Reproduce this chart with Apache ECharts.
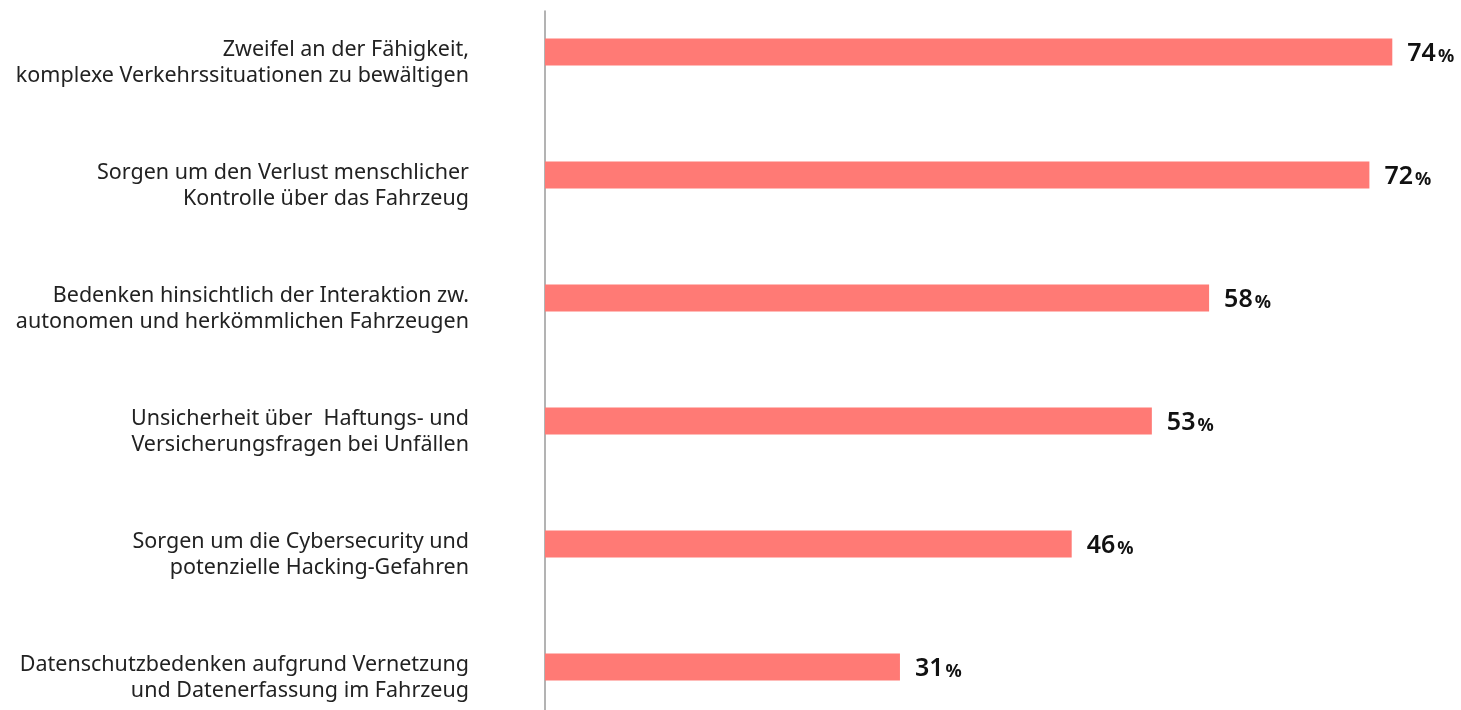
<!DOCTYPE html>
<html>
<head>
<meta charset="utf-8">
<script src="https://cdn.jsdelivr.net/npm/echarts@6/dist/echarts.min.js"></script>
<style>
html,body{margin:0;padding:0;background:#fff;overflow:hidden;width:1461px;height:710px;}
#chart{position:absolute;left:0;top:-30px;width:1461px;height:770px;}
</style>
</head>
<body>
<div id="chart"></div>
<script>
const categories = [
  "Zweifel an der Fähigkeit,\nkomplexe Verkehrssituationen zu bewältigen",
  "Sorgen um den Verlust menschlicher\nKontrolle über das Fahrzeug",
  "Bedenken hinsichtlich der Interaktion zw.\nautonomen und herkömmlichen Fahrzeugen",
  "Unsicherheit über  Haftungs- und\nVersicherungsfragen bei Unfällen",
  "Sorgen um die Cybersecurity und\npotenzielle Hacking-Gefahren",
  "Datenschutzbedenken aufgrund Vernetzung\nund Datenerfassung im Fahrzeug"
];
const values = [74, 72, 58, 53, 46, 31];

const chart = echarts.init(document.getElementById('chart'));
chart.setOption({
  animation: false,
  grid: [
    {left: 545, right: 0, top: 20.5, height: 738, containLabel: false},
    {left: 545, width: 1, top: 41, bottom: 0}
  ],
  xAxis: [
    {type: 'value', min: 0, max: 80, show: false, gridIndex: 0},
    {type: 'value', min: 0, max: 1, show: false, gridIndex: 1}
  ],
  yAxis: [
    {
      type: 'category', data: categories, inverse: true, gridIndex: 0,
      axisLine: {show: false}, axisTick: {show: false},
      axisLabel: {
        margin: 76, align: 'right',
        formatter: v => '{s| }\n' + v.split('\n').map(l => '{t|' + l + '}').join('\n'),
        rich: {
          s: {fontSize: 10, lineHeight: 22},
          t: {fontFamily: 'Noto Sans', fontSize: 21.5, lineHeight: 26.5, color: '#222'}
        }
      }
    },
    {
      type: 'value', gridIndex: 1, min: 0, max: 1,
      axisLine: {show: true, lineStyle: {color: '#9a9a9a', width: 1.5}},
      axisTick: {show: false}, axisLabel: {show: false}, splitLine: {show: false}
    }
  ],
  series: [{
    type: 'bar', data: values, xAxisIndex: 0, yAxisIndex: 0,
    barWidth: 27,
    itemStyle: {color: '#ff7a75'},
    label: {
      show: true, position: 'right', distance: 15,
      formatter: p => '{v|' + p.value + '}{p|%}',
      rich: {
        v: {fontFamily: 'Noto Sans', fontSize: 25, fontWeight: 600, color: '#111', padding: [3, 0, 0, 0]},
        p: {fontFamily: 'Noto Sans', fontSize: 18, fontWeight: 'bold', color: '#111', padding: [9, 0, 0, 2]}
      }
    }
  }]
});
</script>
</body>
</html>
